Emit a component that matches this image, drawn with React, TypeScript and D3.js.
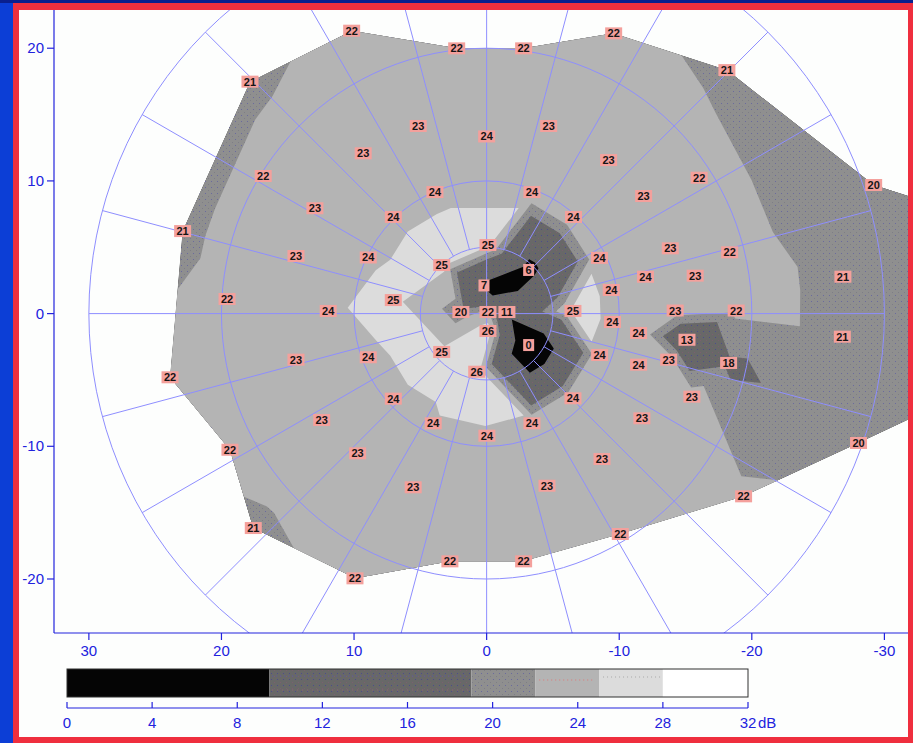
import React from 'react';
import * as d3 from 'd3';

// ---- test locations (degrees, x positive to the left as on the axis) ----
const ptX = [
  10.18, 2.26, -2.79, -9.58, 17.85, -18.12, 5.16, 0.0, -4.68, 9.31,
  -9.2, 16.85, 12.95, 3.9, -3.42, -11.84, -16.03, -29.19, 22.93, 7.04,
  -6.55, -0.1, 14.38, 8.93, -13.85, -18.33, -8.51, 3.39, -3.17, 0.2,
  -11.98, -15.73, -26.87, 19.58, 7.04, -9.4, 11.95, 1.94, -0.1, -1.53,
  -6.51, -14.22, -18.82, -9.49, -0.1, -26.83, -15.11, -11.46, -3.17, 3.39,
  8.93, 14.38, -8.52, -18.25, -13.73, -11.46, 0.75, 23.88, 7.04, -6.51,
  -15.48, 12.44, 4.03, -3.42, -11.71, -0.02, 19.36, 9.73, -28.05, -8.7,
  5.54, -4.55, -19.38, 17.6, -10.08, 2.77, -2.79, 9.93,
];
const ptY = [
  21.32, 19.99, 19.99, 21.12, 17.48, 18.35, 14.14, 13.35, 14.14, 12.08,
  11.57, 10.37, 7.94, 9.16, 9.16, 8.86, 10.24, 9.69, 6.22, 7.28,
  7.28, 5.17, 4.34, 4.23, 4.92, 4.62, 4.2, 3.66, 3.29, 2.12,
  2.78, 2.86, 2.78, 1.1, 1.02, 1.78, 0.2, 0.12, 0.12, 0.12,
  0.2, 0.23, 0.23, -0.63, -1.31, -1.74, -1.97, -1.46, -2.37, -2.89,
  -3.29, -3.47, -3.12, -3.72, -3.47, -3.85, -4.38, -4.8, -6.41, -6.38,
  -6.26, -8.02, -8.27, -8.27, -7.89, -9.2, -10.26, -10.53, -9.75, -10.96,
  -13.09, -12.97, -13.77, -16.16, -16.61, -18.67, -18.67, -19.95,
];
const ptDb = [
  22, 22, 22, 22, 21, 21, 23, 24, 23, 23,
  23, 22, 23, 24, 24, 23, 22, 20, 21, 24,
  24, 25, 23, 24, 23, 22, 24, 25, 6, 7,
  24, 23, 21, 22, 25, 24, 24, 20, 22, 11,
  25, 23, 22, 24, 26, 21, 13, 24, 0, 25,
  24, 23, 24, 18, 23, 24, 26, 22, 24, 24,
  23, 23, 24, 24, 23, 24, 22, 23, 20, 23,
  23, 23, 22, 21, 22, 22, 22, 22,
];
// outermost test locations (form the edge of the grey map)
const rimIds = [0, 1, 2, 3, 4, 5, 17, 18, 57, 66, 68, 72, 73, 74, 75, 76, 77];
// locations beyond the right edge of the plot (not visible, extend the map)
const hiddenX = [-36, -36.5, -36];
const hiddenY = [7.5, 0.5, -6];
const hiddenDb = [20, 20, 20];

// ---- grey levels ----
const levelCuts = [8.5, 18.5, 21.4, 24.3, 27.5];
const barStops = [0, 9.5, 19, 22, 25, 28, 32];
const barTicks = [0, 4, 8, 12, 16, 20, 24, 28, 32];

// ---- polar grid ----
const gridRings = [5, 10, 20, 30];
const spokeAngles = [0, 15, 30, 45, 60, 75, 90, 105, 120, 135, 150, 165, 180, 195, 210, 225, 240, 255, 270, 285, 300, 315, 330, 345];
const axisAngles = [0, 90, 180, 270];

// ---- axes ----
const xTicks = [30, 20, 10, 0, -10, -20, -30];
const yTicks = [20, 10, 0, -10, -20];

const W = 913;
const H = 743;
const PL = 54, PR = 908, PT = 10, PB = 633;
const BAR = { left: 67, right: 748, top: 669, bottom: 697, axis: 708 };
const AXIS_COLOR = '#2222dd';
const GRID_COLOR = '#8e8eff';
const FONT = "'Liberation Sans', Arial, sans-serif";

const bandFills = ['#050505', 'url(#patDark)', 'url(#patMed)', '#b4b4b4', '#dcdcdc', '#ffffff'];

type V = { x: number; y: number; v: number };

function clipGE(poly: V[], t: number): V[] {
  const out: V[] = [];
  const n = poly.length;
  for (let i = 0; i < n; i++) {
    const a = poly[i];
    const b = poly[(i + 1) % n];
    const ain = a.v >= t;
    const bin = b.v >= t;
    if (ain) out.push(a);
    if (ain !== bin) {
      const k = (t - a.v) / (b.v - a.v);
      out.push({ x: a.x + k * (b.x - a.x), y: a.y + k * (b.y - a.y), v: t });
    }
  }
  return out;
}

export default function App() {
  const xScale = d3.scaleLinear().domain([32.63, -31.78]).range([PL, PR]);
  const yScale = d3.scaleLinear().domain([22.88, -24.07]).range([PT, PB]);
  const barScale = d3.scaleLinear().domain([0, 32]).range([BAR.left, BAR.right]);

  const allX = [...ptX, ...hiddenX];
  const allY = [...ptY, ...hiddenY];
  const allDb = [...ptDb, ...hiddenDb];
  const pts: V[] = allX.map((x, i) => ({ x: xScale(x), y: yScale(allY[i]), v: allDb[i] }));

  const delaunay = d3.Delaunay.from(pts, (p) => p.x, (p) => p.y);
  const T = delaunay.triangles;
  const tris: V[][] = [];
  for (let i = 0; i < T.length; i += 3) tris.push([pts[T[i]], pts[T[i + 1]], pts[T[i + 2]]]);

  const thresholds = [-Infinity, ...levelCuts];
  const bandPaths = thresholds.map((t) =>
    tris
      .map((tri) => {
        const p = clipGE(tri, t);
        return p.length >= 3 ? 'M' + p.map((q) => `${q.x.toFixed(2)},${q.y.toFixed(2)}`).join('L') + 'Z' : '';
      })
      .join('')
  );

  const ringIds = [...rimIds, ...hiddenX.map((_, i) => ptX.length + i)];
  ringIds.sort((a, b) => Math.atan2(allY[a], -allX[a]) - Math.atan2(allY[b], -allX[b]));
  const ringPath = 'M' + ringIds.map((i) => `${pts[i].x},${pts[i].y}`).join('L') + 'Z';

  const cx = xScale(0);
  const cy = yScale(0);
  const toPx = (r: number, a: number) => {
    const rad = (a * Math.PI) / 180;
    return [xScale(-r * Math.cos(rad)), yScale(r * Math.sin(rad))];
  };

  return (
    <svg width={W} height={H} style={{ position: 'absolute', left: 0, top: 0, display: 'block' }}>
      <defs>
        <clipPath id="plotClip">
          <rect x={PL} y={PT} width={PR - PL} height={PB - PT} />
        </clipPath>
        <clipPath id="rimClip">
          <path d={ringPath} />
        </clipPath>
        <pattern id="patDark" width={6} height={6} patternUnits="userSpaceOnUse">
          <rect width={6} height={6} fill="#686868" />
          <rect x={1} y={1} width={1} height={1} fill="#4c4c8c" />
          <rect x={4} y={4} width={1} height={1} fill="#7c5e70" />
        </pattern>
        <pattern id="patMed" width={6} height={6} patternUnits="userSpaceOnUse">
          <rect width={6} height={6} fill="#8f8f8f" />
          <rect x={1} y={1} width={1} height={1} fill="#6a6a9e" />
          <rect x={4} y={4} width={1} height={1} fill="#7e7e86" />
        </pattern>
      </defs>

      {/* background & frame */}
      <rect width={W} height={H} fill="#0c3ed6" />
      <rect x={0} y={0} width={W} height={3} fill="#0a1f8e" />
      <rect x={13} y={3} width={W - 13} height={H - 3} fill="#ef2f3e" />
      <rect x={19} y={10} width={908 - 19} height={737 - 10} fill="#fdfefd" />

      {/* grey map */}
      <g clipPath="url(#plotClip)">
        <g clipPath="url(#rimClip)">
          {bandPaths.map((d, i) => (
            <path key={i} d={d} fill={bandFills[i]} />
          ))}
        </g>
        {/* polar grid */}
        <g fill="none" stroke={GRID_COLOR} strokeWidth={1}>
          {gridRings.map((r) => (
            <ellipse key={r} cx={cx} cy={cy} rx={Math.abs(xScale(r) - cx)} ry={Math.abs(yScale(r) - cy)} />
          ))}
          {spokeAngles.map((a) => {
            const r0 = axisAngles.includes(a) ? 0 : 5;
            const [x1, y1] = toPx(r0, a);
            const [x2, y2] = toPx(30, a);
            return <line key={a} x1={x1} y1={y1} x2={x2} y2={y2} />;
          })}
        </g>
      </g>

      {/* value labels */}
      <g fontFamily={FONT} fontSize={11} fontWeight="bold" textAnchor="middle">
        {ptDb.map((v, i) => {
          const s = String(v);
          const w = s.length > 1 ? 17 : 11;
          const x = xScale(ptX[i]);
          const y = yScale(ptY[i]);
          return (
            <g key={i} transform={`translate(${x},${y})`}>
              <rect x={-w / 2} y={-6} width={w} height={12} fill="#f4a09c" />
              <text y={4} fill="#151515">{s}</text>
            </g>
          );
        })}
      </g>

      {/* axes */}
      <g stroke={AXIS_COLOR} strokeWidth={1.2}>
        <line x1={PL} y1={PT} x2={PL} y2={PB} />
        <line x1={PL} y1={PB} x2={PR} y2={PB} />
        {yTicks.map((t) => (
          <line key={'y' + t} x1={PL - 7} x2={PL} y1={yScale(t)} y2={yScale(t)} />
        ))}
        {xTicks.map((t) => (
          <line key={'x' + t} x1={xScale(t)} x2={xScale(t)} y1={PB} y2={PB + 7} />
        ))}
      </g>
      <g fontFamily={FONT} fontSize={15} fill={AXIS_COLOR}>
        {yTicks.map((t) => (
          <text key={'yl' + t} x={PL - 10} y={yScale(t) + 5} textAnchor="end">{t}</text>
        ))}
        {xTicks.map((t) => (
          <text key={'xl' + t} x={xScale(t)} y={PB + 23} textAnchor="middle">{t}</text>
        ))}
      </g>

      {/* colour bar */}
      <g>
        {barStops.slice(0, -1).map((s, i) => (
          <rect key={i} x={barScale(s)} y={BAR.top} width={barScale(barStops[i + 1]) - barScale(s)} height={BAR.bottom - BAR.top} fill={bandFills[i]} />
        ))}
        <line x1={barScale(barStops[1]) + 3} x2={barScale(barStops[2]) - 3} y1={BAR.top + 7} y2={BAR.top + 7} stroke="#5a5aa8" strokeDasharray="1 3" />
        <line x1={barScale(barStops[1]) + 3} x2={barScale(barStops[2]) - 3} y1={BAR.top + 21} y2={BAR.top + 21} stroke="#9a6078" strokeDasharray="1 4" />
        <line x1={barScale(barStops[3]) + 4} x2={barScale(barStops[4]) - 4} y1={BAR.top + 11} y2={BAR.top + 11} stroke="#e07878" strokeDasharray="1 3" />
        <line x1={barScale(barStops[4]) + 4} x2={barScale(barStops[5]) - 2} y1={BAR.top + 8} y2={BAR.top + 8} stroke="#a8a8a8" strokeDasharray="1 3" />
        <rect x={BAR.left} y={BAR.top} width={BAR.right - BAR.left} height={BAR.bottom - BAR.top} fill="none" stroke="#303030" strokeWidth={1} />
      </g>
      <g stroke={AXIS_COLOR} strokeWidth={1.2}>
        <line x1={BAR.left} x2={BAR.right} y1={BAR.axis} y2={BAR.axis} />
        {barTicks.map((t) => (
          <line key={t} x1={barScale(t)} x2={barScale(t)} y1={BAR.axis - 6} y2={BAR.axis} />
        ))}
      </g>
      <g fontFamily={FONT} fontSize={15} fill={AXIS_COLOR} textAnchor="middle">
        {barTicks.map((t) => (
          <text key={t} x={barScale(t)} y={BAR.axis + 20}>{t}</text>
        ))}
        <text x={barScale(32) + 10} y={BAR.axis + 20} textAnchor="start">dB</text>
      </g>
    </svg>
  );
}
